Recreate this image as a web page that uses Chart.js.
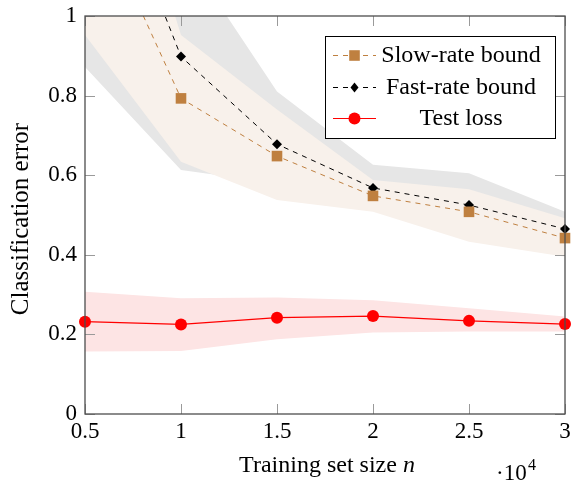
<!DOCTYPE html>
<html>
<head>
<meta charset="utf-8">
<script src="https://cdn.jsdelivr.net/npm/chart.js@4.4.0/dist/chart.umd.min.js"></script>
<style>
  html, body { margin: 0; padding: 0; background: #fff; }
  #wrap { width: 573px; height: 480px; position: relative; }
</style>
</head>
<body>
<div id="wrap"><canvas id="chart" width="573" height="480"></canvas></div>
<script>
// training set sizes (in units of 10^4)
const sizes = [0.5, 1, 1.5, 2, 2.5, 3];

const slowRate  = [1.321, 0.793, 0.648, 0.548, 0.508, 0.442];
const slowUpper = [1.73, 0.952, 0.765, 0.588, 0.565, 0.492];
const slowLower = [0.952, 0.634, 0.538, 0.508, 0.433, 0.395];

const fastRate  = [1.512, 0.898, 0.678, 0.568, 0.525, 0.465];
const fastUpper = [1.5, 1.173, 0.810, 0.626, 0.605, 0.508];
const fastLower = [0.872, 0.613, 0.58, 0.53, 0.47, 0.42];

const testLoss  = [0.232, 0.225, 0.242, 0.246, 0.234, 0.226];
const testUpper = [0.307, 0.291, 0.293, 0.286, 0.266, 0.245];
const testLower = [0.157, 0.158, 0.188, 0.205, 0.207, 0.207];

const xTicks = [0.5, 1, 1.5, 2, 2.5, 3];
const yTicks = [0, 0.2, 0.4, 0.6, 0.8, 1];

const legendLabels = ['Slow-rate bound', 'Fast-rate bound', 'Test loss'];

const SERIF = '"Liberation Serif", "DejaVu Serif", serif';
const BROWN = '#bf8040';

const pts = arr => arr.map((v, i) => ({ x: sizes[i], y: v }));

function band(arr, color, order, fillIt) {
  return {
    data: pts(arr),
    borderWidth: 0,
    borderColor: 'rgba(0,0,0,0)',
    pointRadius: 0,
    backgroundColor: color,
    fill: fillIt ? '-1' : false,
    order: order,
    tension: 0
  };
}

// inner tick marks + frame
const framePlugin = {
  id: 'frame',
  afterDatasetsDraw(chart) {
    const { ctx, chartArea: a, scales } = chart;
    ctx.save();
    ctx.strokeStyle = '#9a9a9a';
    ctx.lineWidth = 1;
    const len = 10;
    xTicks.forEach(v => {
      const x = Math.round(scales.x.getPixelForValue(v)) + 0.5;
      ctx.beginPath();
      ctx.moveTo(x, a.bottom); ctx.lineTo(x, a.bottom - len);
      ctx.moveTo(x, a.top); ctx.lineTo(x, a.top + len);
      ctx.stroke();
    });
    yTicks.forEach(v => {
      const y = Math.round(scales.y.getPixelForValue(v)) + 0.5;
      ctx.beginPath();
      ctx.moveTo(a.left, y); ctx.lineTo(a.left + len, y);
      ctx.moveTo(a.right, y); ctx.lineTo(a.right - len, y);
      ctx.stroke();
    });
    ctx.strokeStyle = '#4d4d4d';
    ctx.lineWidth = 1.3;
    ctx.strokeRect(a.left, a.top, a.right - a.left, a.bottom - a.top);
    ctx.restore();
  }
};

function marker(ctx, kind, x, y) {
  ctx.beginPath();
  if (kind === 'square') {
    ctx.fillStyle = BROWN;
    ctx.rect(x - 5.3, y - 5.3, 10.6, 10.6);
  } else if (kind === 'diamond') {
    ctx.fillStyle = '#000';
    ctx.moveTo(x, y - 5); ctx.lineTo(x + 4, y); ctx.lineTo(x, y + 5); ctx.lineTo(x - 4, y);
    ctx.closePath();
  } else {
    ctx.fillStyle = '#ff0000';
    ctx.arc(x, y, 6, 0, Math.PI * 2);
  }
  ctx.fill();
}

const legendPlugin = {
  id: 'boxLegend',
  afterDraw(chart) {
    const ctx = chart.ctx;
    const bx = 325.5, by = 36.5, bw = 230, bh = 102;
    ctx.save();
    ctx.fillStyle = '#fff';
    ctx.fillRect(bx, by, bw, bh);
    ctx.strokeStyle = '#000';
    ctx.lineWidth = 1;
    ctx.strokeRect(bx, by, bw, bh);
    const rows = [55, 87, 118];
    const styles = [
      { color: BROWN, dash: [5, 5], kind: 'square' },
      { color: '#000', dash: [5, 5], kind: 'diamond' },
      { color: '#ff0000', dash: [], kind: 'circle' }
    ];
    rows.forEach((ry, i) => {
      const s = styles[i];
      ctx.strokeStyle = s.color;
      ctx.lineWidth = 1;
      ctx.setLineDash(s.dash);
      ctx.lineDashOffset = 0;
      ctx.beginPath();
      ctx.moveTo(333, ry + 0.5); ctx.lineTo(376, ry + 0.5);
      ctx.stroke();
      ctx.setLineDash([]);
      marker(ctx, s.kind, 354.5, ry + 0.5);
      ctx.fillStyle = '#000';
      ctx.font = '24px ' + SERIF;
      ctx.textAlign = 'center';
      ctx.textBaseline = 'middle';
      ctx.fillText(legendLabels[i], 461, ry + 1);
    });
    ctx.restore();
  }
};

const titlePlugin = {
  id: 'titles',
  afterDraw(chart) {
    const ctx = chart.ctx;
    ctx.save();
    ctx.fillStyle = '#000';
    ctx.textBaseline = 'alphabetic';
    // x title with italic n
    const plain = 'Training set size ';
    ctx.font = '24px ' + SERIF;
    const w1 = ctx.measureText(plain).width;
    ctx.font = 'italic 24px ' + SERIF;
    const w2 = ctx.measureText('n').width;
    const x0 = 327 - (w1 + w2) / 2;
    ctx.font = '24px ' + SERIF;
    ctx.textAlign = 'left';
    ctx.fillText(plain, x0, 472);
    ctx.font = 'italic 24px ' + SERIF;
    ctx.fillText('n', x0 + w1, 472);
    // scale factor
    ctx.font = '23px ' + SERIF;
    ctx.fillText('\u00b710', 496, 480);
    ctx.font = '16px ' + SERIF;
    ctx.fillText('4', 528, 470);
    // y title
    ctx.translate(28, 219);
    ctx.rotate(-Math.PI / 2);
    ctx.textAlign = 'center';
    ctx.font = '25px ' + SERIF;
    ctx.fillText('Classification error', 0, 0);
    ctx.restore();
  }
};

const ctx = document.getElementById('chart');
new Chart(ctx, {
  type: 'line',
  data: {
    datasets: [
      band(fastLower, '#e6e6e6', 10, false),
      band(fastUpper, '#e6e6e6', 10, true),
      band(slowLower, '#f8f1eb', 9, false),
      band(slowUpper, '#f8f1eb', 9, true),
      band(testLower, '#fde4e4', 8, false),
      band(testUpper, '#fde4e4', 8, true),
      {
        label: legendLabels[1],
        data: pts(fastRate),
        borderColor: '#000',
        borderWidth: 1,
        borderDash: [5, 5],
        pointStyle: 'rectRot',
        pointRadius: 5,
        pointBackgroundColor: '#000',
        pointBorderWidth: 0,
        fill: false,
        order: 3,
        clip: { left: 8, top: 0, right: 8, bottom: 8 }
      },
      {
        label: legendLabels[0],
        data: pts(slowRate),
        borderColor: BROWN,
        borderWidth: 1,
        borderDash: [5, 5],
        pointStyle: 'rect',
        pointRadius: 7.5,
        pointBackgroundColor: BROWN,
        pointBorderWidth: 0,
        fill: false,
        order: 2,
        clip: { left: 8, top: 0, right: 8, bottom: 8 }
      },
      {
        label: legendLabels[2],
        data: pts(testLoss),
        borderColor: '#ff0000',
        borderWidth: 1.2,
        pointStyle: 'circle',
        pointRadius: 6,
        pointBackgroundColor: '#ff0000',
        pointBorderWidth: 0,
        fill: false,
        order: 1,
        clip: 8
      }
    ]
  },
  options: {
    responsive: false,
    animation: false,
    devicePixelRatio: 1,
    layout: { padding: { top: 16, right: 8, left: 0, bottom: 0 } },
    plugins: {
      legend: { display: false },
      tooltip: { enabled: false },
      filler: { propagate: false }
    },
    scales: {
      x: {
        type: 'linear',
        min: 0.5,
        max: 3,
        grid: { display: false, drawTicks: false },
        border: { display: false },
        afterBuildTicks: s => { s.ticks = xTicks.map(v => ({ value: v })); },
        afterFit: s => { s.height = 66; s.paddingLeft = 0; s.paddingRight = 0; },
        ticks: {
          color: '#000',
          padding: 4,
          maxRotation: 0,
          font: { family: SERIF, size: 23 },
          callback: v => String(v)
        }
      },
      y: {
        min: 0,
        max: 1,
        grid: { display: false, drawTicks: false },
        border: { display: false },
        afterBuildTicks: s => { s.ticks = yTicks.map(v => ({ value: v })); },
        afterFit: s => { s.width = 85; s.paddingTop = 0; s.paddingBottom = 0; },
        ticks: {
          color: '#000',
          padding: 8,
          font: { family: SERIF, size: 23 },
          callback: v => String(v)
        }
      }
    }
  },
  plugins: [framePlugin, legendPlugin, titlePlugin]
});
</script>
</body>
</html>
